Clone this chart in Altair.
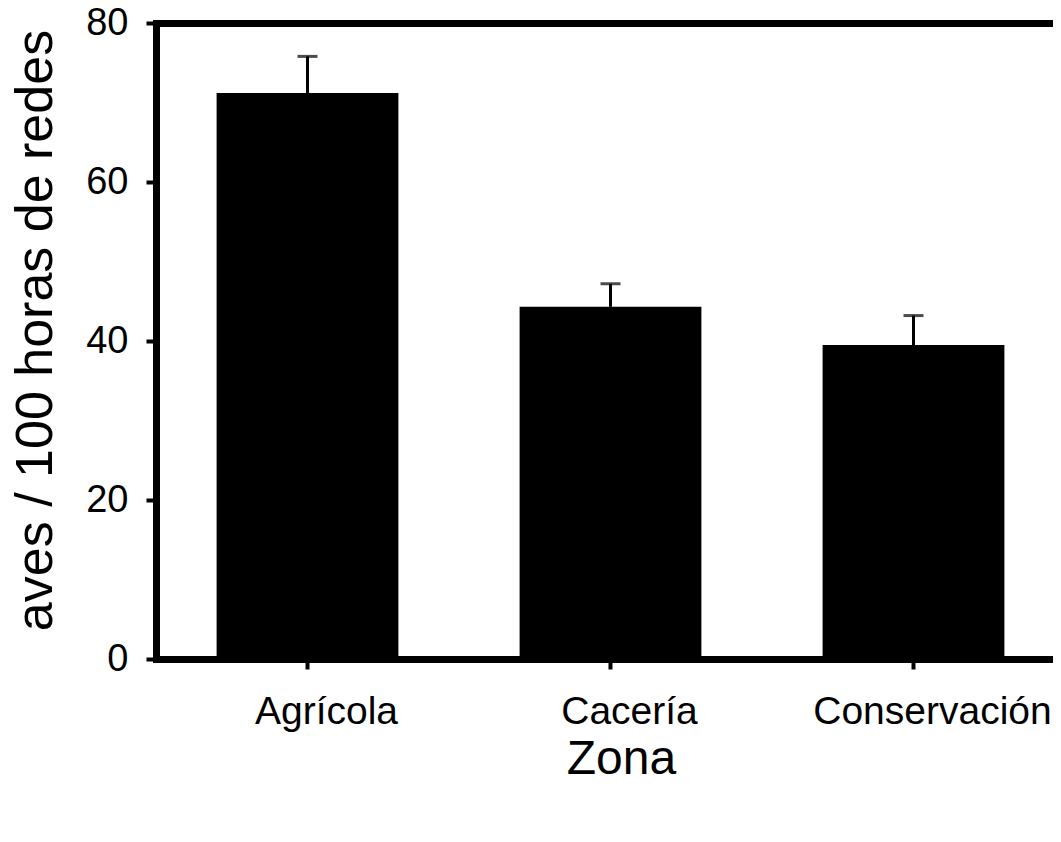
import altair as alt
import pandas as pd

zonas = ["Agrícola", "Cacería", "Conservación"]
medias = [71.2, 44.3, 39.5]
superior = [75.8, 47.2, 43.2]

df = pd.DataFrame({"zona": zonas, "media": medias, "sup": superior})

FONT = "Liberation Sans"

x_scale = alt.Scale(range=[0, 909], paddingInner=0.4, paddingOuter=0.2)

x_enc = alt.X(
    "zona:N",
    sort=zonas,
    scale=x_scale,
    axis=alt.Axis(
        title="Zona",
        labels=False,
        titleFontSize=48,
        titleFontWeight="normal",
        titleX=465,
        titleY=114,
        titleBaseline="alphabetic",
        titleAlign="center",
        tickSize=10,
        tickWidth=4,
        domainWidth=7,
        domainCap="square",
    ),
)

y_scale = alt.Scale(domain=[0, 80], nice=False)

bars = alt.Chart(df).mark_bar(color="black", stroke=None).encode(
    x=x_enc,
    y=alt.Y(
        "media:Q",
        scale=y_scale,
        axis=alt.Axis(
            title="aves / 100 horas de redes",
            values=[0, 20, 40, 60, 80],
            labelFontSize=38,
            labelPadding=18,
            titleFontSize=52,
            titleFontWeight="normal",
            titleAngle=270,
            titleX=-105,
            titleY=307,
            titleBaseline="alphabetic",
            titleAlign="center",
            tickSize=10,
            tickWidth=4,
            domainWidth=7,
            domainCap="square",
            grid=True,
            gridColor="black",
            gridWidth=7,
            gridOpacity=alt.condition("datum.value == 80", alt.value(1), alt.value(0)),
        ),
    ),
)

rule = alt.Chart(df).mark_rule(color="black", strokeWidth=3).encode(
    x=alt.X("zona:N", sort=zonas),
    y=alt.Y("media:Q", scale=y_scale),
    y2="sup:Q",
)

cap = alt.Chart(df).mark_tick(color="black", size=20, thickness=3).encode(
    x=alt.X("zona:N", sort=zonas),
    y=alt.Y("sup:Q", scale=y_scale),
)

labels = alt.Chart(df).mark_text(
    font=FONT, fontSize=39, color="black", dx=19, baseline="alphabetic", align="center"
).encode(
    x=alt.X("zona:N", sort=zonas),
    y=alt.value(701),
    text="zona:N",
)

chart = (
    alt.layer(bars, rule, cap, labels)
    .properties(
        width=897,
        height=636,
        autosize=alt.AutoSizeParams(type="none"),
        padding={"left": 148, "top": 15, "right": 0, "bottom": 150},
    )
    .configure_view(stroke=None)
    .configure_axis(
        labelFont=FONT,
        titleFont=FONT,
        labelColor="black",
        titleColor="black",
        tickColor="black",
        domainColor="black",
    )
)

chart.save("out.html", embed_options={"renderer": "svg", "actions": False})
